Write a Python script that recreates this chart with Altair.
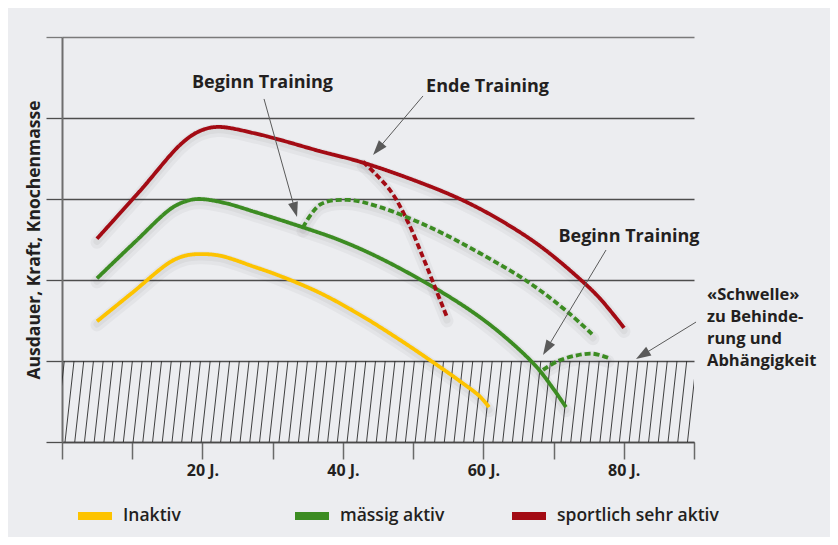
import math
import altair as alt
import pandas as pd

# ---------------- data ----------------
SERIES = ["Inaktiv", "mässig aktiv", "sportlich sehr aktiv"]
COLORS = ["#fdc300", "#3c8c22", "#a30b14"]

inaktiv_age = [4.98, 9.97, 15.38, 17.52, 19.65, 22.50, 27.48, 31.05, 36.74, 42.44, 48.13, 52.41, 56.68, 59.53, 60.81]
inaktiv_val = [1.49, 1.84, 2.22, 2.30, 2.32, 2.30, 2.16, 2.05, 1.84, 1.57, 1.26, 1.01, 0.75, 0.56, 0.43]

maessig_age = [4.98, 10.40, 15.66, 17.94, 19.65, 23.21, 27.48, 34.32, 39.59, 45.29, 53.12, 59.53, 64.23, 67.65, 69.78, 71.77]
maessig_val = [2.02, 2.47, 2.89, 2.98, 3.00, 2.95, 2.84, 2.65, 2.49, 2.27, 1.90, 1.54, 1.21, 0.92, 0.68, 0.43]

sport_age = [4.98, 11.11, 17.09, 19.65, 22.22, 27.48, 31.05, 36.74, 42.44, 49.56, 56.68, 62.38, 68.07, 73.77, 76.62, 80.03]
sport_val = [2.51, 3.10, 3.69, 3.84, 3.89, 3.81, 3.73, 3.59, 3.46, 3.25, 3.00, 2.74, 2.42, 2.01, 1.77, 1.41]

# training stopped (sportlich) -> dashed red
sport_stop_age = [42.87, 46.71, 49.13, 51.41, 53.12, 54.83]
sport_stop_val = [3.46, 3.11, 2.74, 2.28, 1.91, 1.54]

# training begun at ~34 (mässig) -> dashed green
maessig_train1_age = [34.32, 36.74, 40.59, 45.29, 52.41, 59.53, 66.65, 72.34, 75.62]
maessig_train1_val = [2.65, 2.93, 2.99, 2.90, 2.65, 2.33, 1.96, 1.58, 1.32]

# training begun at ~68 (mässig) -> dashed green
maessig_train2_age = [68.50, 70.64, 73.34, 75.62, 77.76]
maessig_train2_val = [0.89, 1.00, 1.07, 1.09, 1.04]

THRESHOLD = 1.0
X_MAX = 90
Y_MAX = 5

# annotations
note_text = ["Beginn Training", "Ende Training", "Beginn Training"]
note_x = [28.55, 60.60, 80.74]
note_y = [4.370, 4.321, 2.469]

schwelle_lines = ["«Schwelle»", "zu Behinde-", "rung und", "Abhängigkeit"]
schwelle_x = 91.85
schwelle_y = 1.753

arrow_x0 = [28.77, 51.41, 77.47, 90.29]
arrow_y0 = [4.235, 4.272, 2.370, 1.481]
arrow_x1 = [33.47, 44.29, 68.50, 81.74]
arrow_y1 = [2.778, 3.543, 1.074, 1.025]

# ---------------- layout ----------------
W, H = 632, 405
PX_X = W / X_MAX
PX_Y = H / Y_MAX
BG = "#ecedf0"
TXT = "#231f20"
FONT = "Open Sans"

# ---------------- tables ----------------
rows = []
def add(ages, vals, series, seg, dashed):
    for a, v in zip(ages, vals):
        rows.append({"age": a, "val": v, "series": series, "seg": seg, "dashed": dashed})

add(inaktiv_age, inaktiv_val, SERIES[0], "a", "solid")
add(maessig_age, maessig_val, SERIES[1], "b", "solid")
add(sport_age, sport_val, SERIES[2], "c", "solid")
add(sport_stop_age, sport_stop_val, SERIES[2], "d", "dash")
add(maessig_train1_age, maessig_train1_val, SERIES[1], "e", "dash")
add(maessig_train2_age, maessig_train2_val, SERIES[1], "f", "dash")
curves = pd.DataFrame(rows)

# hatch pattern for the zone below the threshold (decoration)
HATCH_STEP = 1.385
HATCH_SLANT = 1.28
hatch = pd.DataFrame({"x0": [0.43 + HATCH_STEP * k for k in range(-2, 66)]})
hatch["x1"] = hatch["x0"] + HATCH_SLANT
hatch["y0"] = 0.0
hatch["y1"] = THRESHOLD

notes = pd.DataFrame({"text": note_text, "x": note_x, "y": note_y})
schwelle = pd.DataFrame({"text": ["\n".join(schwelle_lines)], "x": [schwelle_x], "y": [schwelle_y]})

HEAD = 7.5  # px, half length of arrow head
arr = []
for x0, y0, x1, y1 in zip(arrow_x0, arrow_y0, arrow_x1, arrow_y1):
    dxp = (x1 - x0) * PX_X
    dyp = -(y1 - y0) * PX_Y
    L = math.hypot(dxp, dyp)
    ux, uy = dxp / L, dyp / L
    cx = x1 - ux * HEAD / PX_X
    cy = y1 + uy * HEAD / PX_Y
    ang = math.degrees(math.atan2(dxp, -dyp)) % 360
    arr.append({"x0": x0, "y0": y0, "cx": cx, "cy": cy, "angle": ang})
arrows = pd.DataFrame(arr)

# ---------------- chart ----------------
xs = alt.Scale(domain=[0, X_MAX], nice=False, zero=False)
ys = alt.Scale(domain=[0, Y_MAX], nice=False, zero=False)

x_axis = alt.Axis(
    values=list(range(0, 91, 10)), grid=False, title=None,
    tickSize=17, tickColor="#6a6a6a", tickWidth=1.5,
    domainColor="#4a4a4a", domainWidth=1.3,
    labelExpr="(datum.value % 20 == 0 && datum.value > 0 && datum.value < 90) ? datum.value + ' J.' : ''",
    labelFont=FONT, labelFontSize=16, labelFontWeight="bold", labelColor=TXT,
    labelPadding=3, labelFlush=False, labelOverlap=False,
)
y_axis = alt.Axis(
    values=[0, 1, 2, 3, 4, 5], labels=False, grid=True,
    gridColor={"condition": {"test": "datum.value == 5", "value": "#7a7a7a"}, "value": "#4d4d4d"},
    gridWidth=1.3, gridOpacity=1,
    tickColor={"condition": {"test": "datum.value == 5", "value": "#7a7a7a"}, "value": "#4d4d4d"},
    tickSize=16, tickWidth=1.3,
    domainColor="#6e6e6e", domainWidth=2,
    title="Ausdauer, Kraft, Knochenmasse",
    titleFont=FONT, titleFontSize=17.5, titleFontWeight="bold", titleColor=TXT,
    titlePadding=2,
)

base_axes = alt.Chart(hatch).mark_rule(clip=True, color="#2b2b2b", strokeWidth=0.9).encode(
    x=alt.X("x0:Q", scale=xs, axis=x_axis),
    x2="x1:Q",
    y=alt.Y("y0:Q", scale=ys, axis=y_axis),
    y2="y1:Q",
)

# soft drop shadow under the curves
shadow_wide = alt.Chart(curves).transform_calculate(sv="datum.val - 0.045").mark_line(
    strokeWidth=13, interpolate="catmull-rom", color="#000000", opacity=0.035, strokeCap="round",
).encode(x=alt.X("age:Q", scale=xs), y=alt.Y("sv:Q", scale=ys), detail="seg:N")
shadow_narrow = alt.Chart(curves).transform_calculate(sv="datum.val - 0.035").mark_line(
    strokeWidth=7, interpolate="catmull-rom", color="#000000", opacity=0.04, strokeCap="round",
).encode(x=alt.X("age:Q", scale=xs), y=alt.Y("sv:Q", scale=ys), detail="seg:N")

lines = alt.Chart(curves).mark_line(strokeWidth=3.8, interpolate="catmull-rom").encode(
    x=alt.X("age:Q", scale=xs),
    y=alt.Y("val:Q", scale=ys),
    color=alt.Color(
        "series:N",
        scale=alt.Scale(domain=SERIES, range=COLORS),
        legend=alt.Legend(
            title=None, orient="none", direction="horizontal", columns=3,
            legendX=12, legendY=458, gridAlign="all", columnPadding=-6,
            symbolType="stroke", symbolSize=1156, symbolStrokeWidth=8,
            symbolOffset=0, labelOffset=7,
            labelFont=FONT, labelFontSize=17.5, labelFontWeight=600, labelColor=TXT,
            labelLimit=300,
        ),
    ),
    detail="seg:N",
    strokeDash=alt.StrokeDash(
        "dashed:N",
        scale=alt.Scale(domain=["solid", "dash"], range=[[1, 0], [6, 3]]),
        legend=None,
    ),
)

arrow_lines = alt.Chart(arrows).mark_rule(color="#5a5a5a", strokeWidth=1).encode(
    x="x0:Q", y="y0:Q", x2="cx:Q", y2="cy:Q",
)
arrow_heads = alt.Chart(arrows).mark_point(
    shape="M0,-1L0.67,1L-0.67,1Z", filled=True, size=225, color="#5a5a5a", opacity=1,
).encode(
    x="cx:Q", y="cy:Q", angle=alt.Angle("angle:Q", scale=None),
)

text_c = alt.Chart(notes).mark_text(
    align="center", baseline="alphabetic", font=FONT, fontSize=18, fontWeight="bold", color=TXT,
).encode(x="x:Q", y="y:Q", text="text:N")
text_l = alt.Chart(schwelle).mark_text(
    align="left", baseline="alphabetic", font=FONT, fontSize=16.5, fontWeight="bold", color=TXT,
    lineBreak="\n", lineHeight=22,
).encode(x="x:Q", y="y:Q", text="text:N")

chart = alt.layer(base_axes, shadow_wide, shadow_narrow, lines, arrow_lines, arrow_heads,
                  text_c, text_l).properties(
    width=W, height=H,
    autosize=alt.AutoSizeParams(type="none"),
    padding={"left": 54, "top": 29, "right": 136, "bottom": 95},
    background=BG,
).configure_view(stroke=None)

chart.save("out.html", embed_options={"renderer": "svg", "actions": False})
